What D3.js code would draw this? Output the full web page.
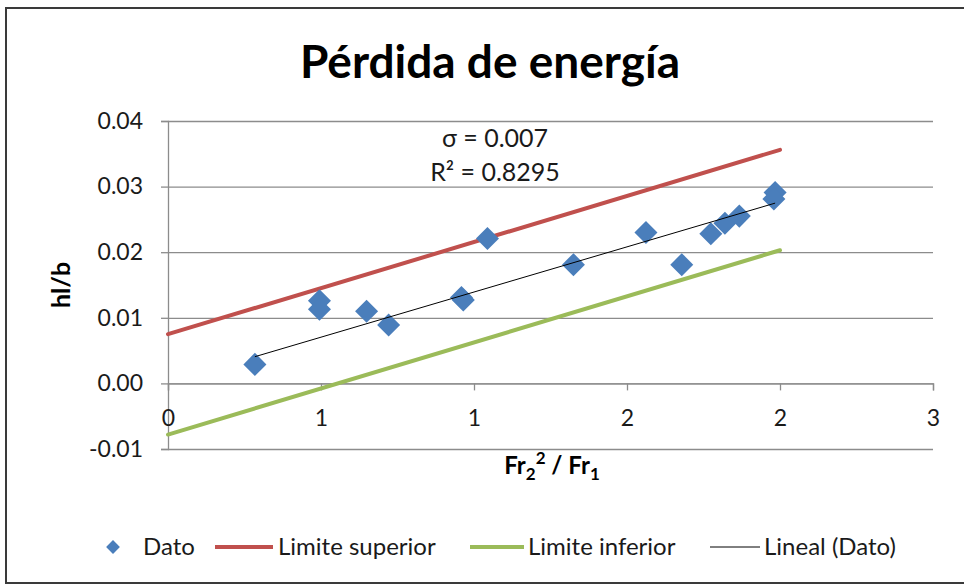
<!DOCTYPE html>
<html>
<head>
<meta charset="utf-8">
<script src="https://cdn.jsdelivr.net/npm/d3@7"></script>
<style>
  body { margin: 0; background: #fff; }
  svg { display: block; font-family: Lato, "Open Sans", sans-serif; }
</style>
</head>
<body>
<div id="chart"></div>
<script>
// Pérdida de energía - scatter with trendline and limit lines

// data
const fr = [0.284, 0.495, 0.495, 0.649, 0.721, 0.959, 0.965, 1.044, 1.325, 1.562,
            1.679, 1.774, 1.820, 1.867, 1.984, 1.980];
const hlb = [0.0029, 0.0126, 0.0113, 0.0110, 0.0089, 0.0131, 0.0127, 0.0221, 0.0181, 0.0230,
             0.0181, 0.0228, 0.0244, 0.0255, 0.0291, 0.0281];

// limit lines (two end points each)
const limitX = [0, 2.0];
const limitUpper = [0.0075, 0.0356];
const limitLower = [-0.0078, 0.0203];

// linear trendline as drawn
const trendSlope = 0.01377;
const trendIntercept = 0.00016;

const xTicks = [0, 0.5, 1, 1.5, 2, 2.5];
const xTickLabels = ['0', '1', '1', '2', '2', '3'];
const yTicks = [-0.01, 0, 0.01, 0.02, 0.03, 0.04];

const width = 964, height = 586;
const plot = {left: 168, right: 933, top: 121, bottom: 449};
const tickFont = 23;

const svg = d3.select('#chart').append('svg')
    .attr('width', width)
    .attr('height', height);

// chart frame
svg.append('rect')
    .attr('x', 6).attr('y', 8)
    .attr('width', 1000).attr('height', 575)
    .attr('fill', 'none')
    .attr('stroke', '#3a3a3a')
    .attr('stroke-width', 2);

const x = d3.scaleLinear().domain([0, 2.5]).range([plot.left, plot.right]);
const y = d3.scaleLinear().domain([-0.01, 0.04]).range([plot.bottom, plot.top]);

const gridColor = '#8c8c8c';
const fmt = d3.format('.2f');

// horizontal gridlines
svg.append('g')
    .attr('transform', `translate(${plot.left},0)`)
    .call(d3.axisLeft(y).tickValues(yTicks).tickSize(-(plot.right - plot.left)).tickFormat(''))
    .call(g => g.select('.domain').remove())
    .call(g => g.selectAll('line').attr('stroke', gridColor).attr('stroke-width', 1.3));

// y axis
svg.append('g')
    .attr('transform', `translate(${plot.left},0)`)
    .call(d3.axisLeft(y).tickValues(yTicks).tickSize(7).tickPadding(18)
        .tickFormat(d => fmt(d).replace('−', '-')))
    .call(g => g.select('.domain').attr('stroke', gridColor).attr('stroke-width', 1.3))
    .call(g => g.selectAll('line').attr('stroke', gridColor).attr('stroke-width', 1.3))
    .call(g => g.selectAll('text')
        .attr('font-size', tickFont)
        .attr('font-family', 'Lato, sans-serif')
        .attr('fill', '#1a1a1a'));

// x axis crossing at zero
svg.append('g')
    .attr('transform', `translate(0,${y(0)})`)
    .call(d3.axisBottom(x).tickValues(xTicks).tickSize(7).tickPadding(19)
        .tickFormat((d, i) => xTickLabels[i]))
    .call(g => g.select('.domain').attr('stroke', gridColor).attr('stroke-width', 1.3))
    .call(g => g.selectAll('line').attr('stroke', gridColor).attr('stroke-width', 1.3))
    .call(g => g.selectAll('text')
        .attr('font-size', tickFont)
        .attr('font-family', 'Lato, sans-serif')
        .attr('fill', '#1a1a1a'));

const line = d3.line().x(d => x(d[0])).y(d => y(d[1]));

// limit lines
svg.append('path')
    .attr('d', line(d3.zip(limitX, limitUpper)))
    .attr('fill', 'none')
    .attr('stroke', '#c0504d')
    .attr('stroke-width', 4)
    .attr('stroke-linecap', 'round');

svg.append('path')
    .attr('d', line(d3.zip(limitX, limitLower)))
    .attr('fill', 'none')
    .attr('stroke', '#9bbb59')
    .attr('stroke-width', 4)
    .attr('stroke-linecap', 'round');

// diamonds
const diamond = d3.symbol().type(d3.symbolSquare).size(265);
svg.append('g')
    .selectAll('path')
    .data(d3.zip(fr, hlb))
    .join('path')
    .attr('d', diamond)
    .attr('transform', d => `translate(${x(d[0])},${y(d[1])}) rotate(45)`)
    .attr('fill', '#4a7ebb');

// trendline over the data range
const [xMin, xMax] = d3.extent(fr);
svg.append('path')
    .attr('d', line([[xMin, trendIntercept + trendSlope * xMin], [xMax, trendIntercept + trendSlope * xMax]]))
    .attr('fill', 'none')
    .attr('stroke', '#000')
    .attr('stroke-width', 1);

// trendline label
const note = svg.append('text')
    .attr('text-anchor', 'middle')
    .attr('font-size', 25)
    .attr('fill', '#1a1a1a');
note.append('tspan').attr('x', 495).attr('y', 147).text('σ = 0.007');
note.append('tspan').attr('x', 495).attr('y', 181).text('R² = 0.8295');

// title
svg.append('text')
    .attr('x', 490).attr('y', 78)
    .attr('text-anchor', 'middle')
    .attr('font-size', 46)
    .attr('font-weight', 'bold')
    .attr('fill', '#000')
    .text('Pérdida de energía');

// y axis title
svg.append('text')
    .attr('transform', 'translate(70,285) rotate(-90)')
    .attr('text-anchor', 'middle')
    .attr('font-size', 25)
    .attr('font-weight', 'bold')
    .attr('fill', '#000')
    .text('hl/b');

// x axis title: Fr2^2 / Fr1
const xt = svg.append('text')
    .attr('x', 552).attr('y', 474)
    .attr('text-anchor', 'middle')
    .attr('font-size', 24)
    .attr('font-weight', 'bold')
    .attr('fill', '#000');
xt.append('tspan').text('Fr');
xt.append('tspan').attr('font-size', 17).attr('dy', 6).text('2');
xt.append('tspan').attr('font-size', 17).attr('dy', -16).text('2');
xt.append('tspan').attr('dy', 10).text(' / Fr');
xt.append('tspan').attr('font-size', 17).attr('dy', 6).text('1');

// legend
const legendY = 547;
const legend = svg.append('g').attr('font-size', 24).attr('fill', '#1a1a1a');

legend.append('path')
    .attr('d', d3.symbol().type(d3.symbolSquare).size(95))
    .attr('transform', `translate(113,${legendY}) rotate(45)`)
    .attr('fill', '#4a7ebb');
legend.append('text').attr('x', 143).attr('y', legendY).attr('dy', '0.35em').text('Dato');

const legendLines = [
    {x1: 215, x2: 273, color: '#c0504d', w: 4, label: 'Limite superior', tx: 278},
    {x1: 470, x2: 524, color: '#9bbb59', w: 4, label: 'Limite inferior', tx: 528},
    {x1: 710, x2: 760, color: '#000', w: 1, label: 'Lineal (Dato)', tx: 764}
];
legendLines.forEach(d => {
    legend.append('line')
        .attr('x1', d.x1).attr('x2', d.x2)
        .attr('y1', legendY).attr('y2', legendY)
        .attr('stroke', d.color)
        .attr('stroke-width', d.w);
    legend.append('text').attr('x', d.tx).attr('y', legendY).attr('dy', '0.35em').text(d.label);
});
</script>
</body>
</html>
